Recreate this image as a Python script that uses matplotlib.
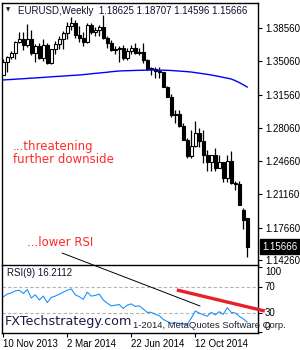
import numpy as np
import matplotlib.pyplot as plt
from matplotlib.patches import Rectangle, ConnectionPatch

# weekly EURUSD candles, 10 Nov 2013 .. 11 Jan 2015
dates = ["10 Nov 2013", "17 Nov 2013", "24 Nov 2013", "1 Dec 2013", "8 Dec 2013", "15 Dec 2013",
         "22 Dec 2013", "29 Dec 2013", "5 Jan 2014", "12 Jan 2014", "19 Jan 2014", "26 Jan 2014",
         "2 Feb 2014", "9 Feb 2014", "16 Feb 2014", "23 Feb 2014", "2 Mar 2014", "9 Mar 2014",
         "16 Mar 2014", "23 Mar 2014", "30 Mar 2014", "6 Apr 2014", "13 Apr 2014", "20 Apr 2014",
         "27 Apr 2014", "4 May 2014", "11 May 2014", "18 May 2014", "25 May 2014", "1 Jun 2014",
         "8 Jun 2014", "15 Jun 2014", "22 Jun 2014", "29 Jun 2014", "6 Jul 2014", "13 Jul 2014",
         "20 Jul 2014", "27 Jul 2014", "3 Aug 2014", "10 Aug 2014", "17 Aug 2014", "24 Aug 2014",
         "31 Aug 2014", "7 Sep 2014", "14 Sep 2014", "21 Sep 2014", "28 Sep 2014", "5 Oct 2014",
         "12 Oct 2014", "19 Oct 2014", "26 Oct 2014", "2 Nov 2014", "9 Nov 2014", "16 Nov 2014",
         "23 Nov 2014", "30 Nov 2014", "7 Dec 2014", "14 Dec 2014", "21 Dec 2014", "28 Dec 2014",
         "4 Jan 2015", "11 Jan 2015"]

opens = [1.3365, 1.3497, 1.3555, 1.3590, 1.3705, 1.3740, 1.3675, 1.3745, 1.3590, 1.3670,
         1.3540, 1.3680, 1.3485, 1.3635, 1.3690, 1.3740, 1.3805, 1.3875, 1.3910, 1.3780,
         1.3750, 1.3705, 1.3890, 1.3812, 1.3830, 1.3870, 1.3755, 1.3695, 1.3630, 1.3635,
         1.3645, 1.3540, 1.3610, 1.3645, 1.3595, 1.3605, 1.3525, 1.3430, 1.3430, 1.3410,
         1.3400, 1.3240, 1.3130, 1.2950, 1.2960, 1.2830, 1.2685, 1.2515, 1.2625, 1.2760,
         1.2670, 1.2525, 1.2450, 1.2525, 1.2390, 1.2450, 1.2290, 1.2465, 1.2230, 1.2225,
         1.1950, 1.18625]
highs = [1.3532, 1.3560, 1.3620, 1.3720, 1.3810, 1.3810, 1.3893, 1.3830, 1.3690, 1.3700,
         1.3740, 1.3700, 1.3640, 1.3715, 1.3775, 1.3825, 1.3915, 1.3966, 1.3935, 1.3875,
         1.3810, 1.3905, 1.3905, 1.3865, 1.3890, 1.3993, 1.3770, 1.3730, 1.3670, 1.3670,
         1.3675, 1.3645, 1.3675, 1.3700, 1.3650, 1.3700, 1.3530, 1.3445, 1.3445, 1.3445,
         1.3400, 1.3250, 1.3160, 1.2995, 1.3000, 1.2865, 1.2700, 1.2790, 1.2886, 1.2810,
         1.2790, 1.2575, 1.2530, 1.2600, 1.2530, 1.2455, 1.2530, 1.2570, 1.2250, 1.2250,
         1.1975, 1.18707]
lows = [1.3360, 1.3400, 1.3530, 1.3530, 1.3700, 1.3625, 1.3660, 1.3570, 1.3500, 1.3530,
        1.3510, 1.3480, 1.3475, 1.3580, 1.3640, 1.3640, 1.3745, 1.3830, 1.3750, 1.3705,
        1.3670, 1.3700, 1.3790, 1.3775, 1.3775, 1.3740, 1.3650, 1.3620, 1.3585, 1.3503,
        1.3525, 1.3525, 1.3580, 1.3580, 1.3575, 1.3490, 1.3420, 1.3365, 1.3335, 1.3335,
        1.3240, 1.3130, 1.2920, 1.2860, 1.2815, 1.2680, 1.2500, 1.2500, 1.2615, 1.2615,
        1.2440, 1.2357, 1.2360, 1.2358, 1.2390, 1.2245, 1.2245, 1.2220, 1.2165, 1.2000,
        1.1755, 1.14596]
closes = [1.3497, 1.3555, 1.3590, 1.3705, 1.3740, 1.3675, 1.3745, 1.3590, 1.3670, 1.3540,
          1.3680, 1.3485, 1.3635, 1.3690, 1.3740, 1.3805, 1.3875, 1.3910, 1.3780, 1.3750,
          1.3705, 1.3890, 1.3812, 1.3830, 1.3870, 1.3755, 1.3695, 1.3630, 1.3635, 1.3645,
          1.3540, 1.3610, 1.3645, 1.3595, 1.3605, 1.3525, 1.3430, 1.3430, 1.3410, 1.3400,
          1.3240, 1.3130, 1.2950, 1.2960, 1.2830, 1.2685, 1.2515, 1.2625, 1.2760, 1.2670,
          1.2525, 1.2450, 1.2525, 1.2390, 1.2450, 1.2290, 1.2465, 1.2230, 1.2225, 1.2000,
          1.1845, 1.15666]
ma = [1.3312, 1.3315, 1.3317, 1.3320, 1.3323, 1.3325, 1.3328, 1.3331, 1.3333, 1.3336,
      1.3339, 1.3342, 1.3345, 1.3348, 1.3350, 1.3353, 1.3356, 1.3359, 1.3361, 1.3364,
      1.3368, 1.3372, 1.3377, 1.3381, 1.3385, 1.3389, 1.3393, 1.3398, 1.3402, 1.3406,
      1.3408, 1.3409, 1.3410, 1.3412, 1.3413, 1.3414, 1.3415, 1.3416, 1.3416, 1.3415,
      1.3414, 1.3413, 1.3411, 1.3408, 1.3405, 1.3402, 1.3399, 1.3395, 1.3389, 1.3383,
      1.3377, 1.3371, 1.3364, 1.3356, 1.3348, 1.3339, 1.3331, 1.3322, 1.3305, 1.3285,
      1.3262, 1.3238]
rsi = [55, 59, 61, 64, 65, 60, 66, 53, 58, 50,
       56, 46, 54, 56, 59, 62, 65, 67, 58, 55,
       51, 62, 56, 57, 59, 50, 45, 41, 42, 43,
       37, 42, 44, 40, 41, 36, 31, 31, 28, 26,
       20, 17, 14, 15, 14, 13, 12, 22, 33, 30,
       27, 25, 31, 27, 32, 28, 38, 31, 30, 25,
       21, 16.2112]

price_ticks = [1.38560, 1.35060, 1.31560, 1.28060, 1.24660, 1.21160, 1.17660, 1.14260]
rsi_ticks = [100, 70, 30, 0]
date_ticks = ["10 Nov 2013", "2 Mar 2014", "22 Jun 2014", "12 Oct 2014"]

# hand-drawn trend lines (bar index, value)
price_line_start = (14.7, 1.1500)
rsi_line_end = (49.2, 40.8)
rsi_red_line = ([43.4, 65.4], [65.4, 33.0])

W, H = 300, 350
fig = plt.figure(figsize=(3.0, 3.5), dpi=100)


def box(x0, y0, x1, y1):
    return [x0 / W, 1 - y1 / H, (x1 - x0) / W, (y1 - y0) / H]


ax = fig.add_axes(box(2, 3, 258, 264.5))
ax2 = fig.add_axes(box(2, 264.5, 258, 333))
lab_font = 'Liberation Sans'

x = np.arange(len(dates))
bw = 0.7
ax.vlines(x, lows, highs, color='black', lw=0.9, zorder=2)
for i in x:
    o, c = opens[i], closes[i]
    lo = min(o, c)
    h = max(abs(c - o), 0.0003)
    if c >= o:
        ax.add_patch(Rectangle((i - bw / 2, lo), bw, h, facecolor='white', edgecolor='black', lw=0.8, zorder=3))
    else:
        ax.add_patch(Rectangle((i - bw / 2, lo), bw, h, facecolor='black', edgecolor='black', lw=0.8, zorder=3))
ax.plot(x, ma, color='#0000ff', lw=1.0, zorder=4)

ax.set_xlim(-0.33, 63.7)
ax.set_ylim(1.13798, 1.41178)
ax.set_xticks([])
ax.yaxis.tick_right()
ax.set_yticks(price_ticks)
ax.set_yticklabels(['%.5f' % v for v in price_ticks], fontsize=7, family=lab_font)
ax.tick_params(axis='y', length=3, width=0.8, pad=2)
ax.spines['bottom'].set_visible(False)
for s in ['left', 'top', 'right']:
    ax.spines[s].set_linewidth(1.0)

# current price box
ax.text(1.016, closes[-1], '%.5f' % closes[-1], transform=ax.get_yaxis_transform(),
        ha='left', va='center', fontsize=7, family=lab_font, color='white',
        bbox=dict(boxstyle='square,pad=0.25', facecolor='black', edgecolor='black'), clip_on=False)

# RSI panel
ax2.plot(x, rsi, color='#1e90ff', lw=0.8, zorder=2)
for lvl in [70, 30]:
    ax2.axhline(lvl, color='#b4b4b4', lw=0.8, ls=(0, (3, 2)), zorder=1)
ax2.set_xlim(-0.33, 63.7)
ax2.set_ylim(-0.8, 104.6)
ax2.yaxis.tick_right()
ax2.set_yticks(rsi_ticks)
ax2.set_yticklabels([str(v) for v in rsi_ticks], fontsize=7, family=lab_font)
for lbl, va in zip(ax2.get_yticklabels(), ['top', 'center', 'center', 'bottom']):
    lbl.set_va(va)
ax2.tick_params(axis='y', length=3, width=0.8, pad=2)
ax2.set_xticks([dates.index(d) for d in date_ticks])
ax2.set_xticklabels(date_ticks, fontsize=7, family=lab_font, ha='left')
ax2.tick_params(axis='x', length=3, width=0.8, pad=1)
for s in ax2.spines.values():
    s.set_linewidth(1.0)
ax2.plot(rsi_red_line[0], rsi_red_line[1], color='#e8202a', lw=2.4, solid_capstyle='butt', clip_on=False, zorder=5)

con = ConnectionPatch(xyA=price_line_start, coordsA=ax.transData,
                      xyB=rsi_line_end, coordsB=ax2.transData, color='black', lw=0.7, zorder=6)
fig.add_artist(con)

# texts
fig.text(6 / W, 1 - 10 / H, '\u25bc', fontsize=4, va='center', ha='left', color='#202020')
fig.text(18 / W, 1 - 10.5 / H, 'EURUSD,Weekly  1.18625 1.18707 1.14596 1.15666',
         fontsize=7, family=lab_font, va='center', ha='left', color='#101030')
fig.text(7 / W, 1 - 273 / H, 'RSI(9) 16.2112', fontsize=7, family=lab_font, va='center', ha='left', color='#101030')
fig.text(13 / W, 1 - 153 / H, '...threatening\nfurther downside', fontsize=8.5, va='center', ha='left',
         color='#ff2a2a', linespacing=1.0)
fig.text(27 / W, 1 - 243 / H, '...lower RSI', fontsize=8.5, va='center', ha='left', color='#ff2a2a')
fig.text(133 / W, 1 - 325 / H, '1-2014, MetaQuotes Software Corp.', fontsize=6.8, family=lab_font,
         va='center', ha='left', color='#202030')
fig.text(5 / W, 1 - 322 / H, 'FXTechstrategy.com', fontsize=9.2, va='center', ha='left', color='#1a1a46')

fig.savefig('out.png', dpi=100)
